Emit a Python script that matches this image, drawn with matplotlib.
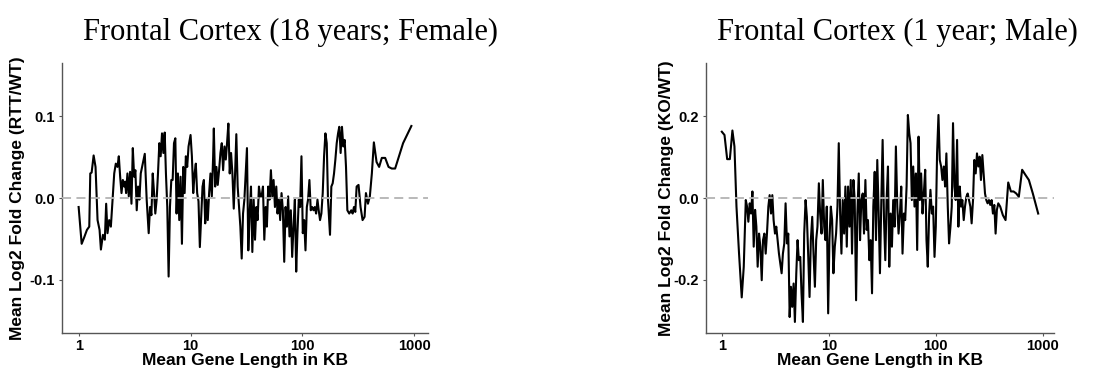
import numpy as np
import matplotlib
matplotlib.use("Agg")
import matplotlib.pyplot as plt

# log10 of mean gene length (KB) and mean log2 fold change
log_len_f = [
    0.000, 0.027, 0.050, 0.074, 0.095, 0.104, 0.116, 0.134, 0.151, 0.169,
    0.187, 0.199, 0.217, 0.234, 0.246, 0.258, 0.273, 0.288, 0.303, 0.318,
    0.332, 0.347, 0.359, 0.371, 0.383, 0.395, 0.407, 0.415, 0.424, 0.436,
    0.448, 0.460, 0.472, 0.484, 0.496, 0.507, 0.519, 0.531, 0.543, 0.555,
    0.573, 0.591, 0.608, 0.626, 0.638, 0.650, 0.662, 0.674, 0.685, 0.697,
    0.709, 0.721, 0.733, 0.745, 0.757, 0.769, 0.780, 0.792, 0.804, 0.816,
    0.828, 0.840, 0.852, 0.864, 0.875, 0.887, 0.899, 0.911, 0.923, 0.935,
    0.947, 0.958, 0.970, 0.982, 1.000, 1.012, 1.024, 1.036, 1.047, 1.059,
    1.071, 1.083, 1.095, 1.107, 1.119, 1.131, 1.142, 1.154, 1.166, 1.178,
    1.190, 1.202, 1.208, 1.220, 1.231, 1.243, 1.255, 1.267, 1.279, 1.291,
    1.303, 1.315, 1.326, 1.338, 1.350, 1.362, 1.374, 1.386, 1.398, 1.409,
    1.421, 1.433, 1.445, 1.457, 1.469, 1.481, 1.493, 1.504, 1.516, 1.528,
    1.540, 1.552, 1.564, 1.576, 1.588, 1.599, 1.611, 1.623, 1.635, 1.647,
    1.659, 1.671, 1.682, 1.694, 1.706, 1.718, 1.730, 1.742, 1.754, 1.766,
    1.777, 1.789, 1.801, 1.813, 1.825, 1.837, 1.849, 1.861, 1.872, 1.884,
    1.896, 1.908, 1.920, 1.932, 1.944, 1.955, 1.967, 1.979, 1.991, 2.003,
    2.015, 2.027, 2.039, 2.050, 2.062, 2.074, 2.086, 2.098, 2.110, 2.122,
    2.134, 2.145, 2.157, 2.169, 2.181, 2.193, 2.205, 2.217, 2.228, 2.246,
    2.258, 2.270, 2.282, 2.294, 2.306, 2.318, 2.329, 2.341, 2.353, 2.365,
    2.377, 2.389, 2.401, 2.418, 2.436, 2.448, 2.460, 2.472, 2.484, 2.501,
    2.519, 2.537, 2.555, 2.567, 2.585, 2.602, 2.620, 2.638, 2.662, 2.685,
    2.709, 2.739, 2.769, 2.798, 2.828, 2.899, 2.973,
]
lfc_f = [
    -0.011, -0.056, -0.048, -0.039, -0.035, 0.030, 0.031, 0.052, 0.038, -0.027,
    -0.039, -0.063, -0.045, -0.051, -0.007, -0.043, -0.027, -0.035, -0.002, 0.030,
    0.042, 0.038, 0.051, 0.026, 0.006, 0.022, 0.014, 0.020, 0.006, 0.030,
    0.002, 0.032, -0.007, 0.061, 0.026, 0.034, -0.015, 0.014, -0.002, 0.030,
    0.042, 0.054, -0.002, -0.043, -0.011, -0.021, 0.030, 0.006, -0.019, -0.002,
    0.030, 0.067, 0.051, 0.079, 0.055, 0.080, 0.030, -0.011, -0.096, -0.011,
    0.022, 0.022, 0.067, 0.073, -0.019, 0.030, -0.027, 0.026, -0.056, 0.038,
    0.006, 0.051, 0.038, 0.063, 0.077, 0.051, 0.006, 0.030, 0.042, 0.006,
    -0.004, -0.060, -0.023, 0.014, 0.022, -0.031, -0.002, -0.027, 0.006, 0.030,
    0.002, 0.051, 0.085, 0.014, 0.038, 0.016, 0.034, 0.055, 0.067, 0.034,
    0.063, 0.047, 0.067, 0.091, 0.030, 0.055, 0.030, -0.013, 0.030, 0.078,
    0.014, -0.011, -0.035, -0.074, -0.019, -0.002, 0.030, 0.061, -0.064, -0.019,
    0.014, -0.066, -0.002, -0.051, -0.011, -0.027, 0.014, 0.002, 0.002, 0.014,
    -0.051, -0.011, -0.035, 0.014, -0.002, 0.034, 0.002, 0.022, -0.011, 0.014,
    -0.019, -0.002, -0.027, 0.006, -0.015, -0.078, -0.011, -0.035, 0.002, -0.047,
    -0.015, -0.072, -0.035, -0.002, -0.090, -0.043, -0.002, -0.011, 0.051, -0.043,
    -0.027, -0.064, -0.011, -0.002, 0.022, -0.015, -0.011, -0.015, -0.011, -0.019,
    -0.002, -0.015, -0.027, -0.019, 0.006, 0.051, 0.079, 0.067, -0.002, -0.045,
    0.014, 0.018, 0.030, 0.047, 0.067, 0.079, 0.087, 0.055, 0.087, 0.063,
    0.071, 0.038, -0.015, -0.019, -0.015, -0.019, -0.011, -0.017, 0.014, 0.016,
    -0.011, -0.027, -0.023, 0.006, -0.007, 0.002, 0.030, 0.068, 0.044, 0.038,
    0.049, 0.049, 0.038, 0.036, 0.036, 0.067, 0.088,
]

log_len_m = [
    0.000, 0.025, 0.050, 0.075, 0.099, 0.118, 0.137, 0.161, 0.186, 0.205,
    0.224, 0.236, 0.248, 0.261, 0.273, 0.286, 0.298, 0.311, 0.323, 0.335,
    0.348, 0.360, 0.373, 0.385, 0.398, 0.410, 0.422, 0.435, 0.447, 0.460,
    0.472, 0.484, 0.497, 0.509, 0.522, 0.534, 0.559, 0.571, 0.584, 0.596,
    0.609, 0.621, 0.634, 0.646, 0.658, 0.671, 0.683, 0.696, 0.708, 0.720,
    0.733, 0.745, 0.758, 0.770, 0.783, 0.795, 0.807, 0.820, 0.832, 0.845,
    0.857, 0.870, 0.882, 0.894, 0.907, 0.919, 0.932, 0.944, 0.957, 0.969,
    0.981, 0.994, 1.006, 1.019, 1.031, 1.043, 1.056, 1.068, 1.081, 1.093,
    1.106, 1.118, 1.130, 1.143, 1.155, 1.168, 1.180, 1.193, 1.205, 1.217,
    1.230, 1.242, 1.255, 1.267, 1.280, 1.292, 1.304, 1.317, 1.329, 1.342,
    1.354, 1.366, 1.379, 1.391, 1.404, 1.416, 1.429, 1.441, 1.453, 1.466,
    1.478, 1.491, 1.503, 1.516, 1.528, 1.540, 1.553, 1.565, 1.578, 1.590,
    1.602, 1.615, 1.627, 1.640, 1.652, 1.665, 1.677, 1.689, 1.702, 1.714,
    1.727, 1.739, 1.752, 1.764, 1.776, 1.789, 1.801, 1.814, 1.826, 1.839,
    1.851, 1.863, 1.876, 1.888, 1.901, 1.913, 1.925, 1.938, 1.950, 1.963,
    1.975, 1.988, 2.000, 2.012, 2.025, 2.037, 2.050, 2.062, 2.075, 2.087,
    2.099, 2.112, 2.124, 2.137, 2.149, 2.161, 2.174, 2.186, 2.199, 2.211,
    2.224, 2.236, 2.248, 2.261, 2.273, 2.286, 2.298, 2.311, 2.323, 2.335,
    2.348, 2.360, 2.373, 2.385, 2.398, 2.410, 2.422, 2.435, 2.447, 2.460,
    2.472, 2.484, 2.497, 2.509, 2.522, 2.534, 2.547, 2.559, 2.571, 2.584,
    2.602, 2.627, 2.652, 2.677, 2.702, 2.727, 2.752, 2.776, 2.807, 2.839,
    2.870, 2.907, 2.957,
]
lfc_m = [
    0.162, 0.154, 0.095, 0.095, 0.165, 0.126, -0.021, -0.136, -0.243, -0.168,
    -0.005, -0.021, -0.058, -0.013, -0.038, 0.016, -0.119, -0.029, -0.070, -0.168,
    -0.087, -0.119, -0.201, -0.103, -0.087, -0.136, -0.087, -0.021, 0.007, -0.038,
    0.007, -0.054, -0.087, -0.070, -0.103, -0.136, -0.184, -0.136, -0.111, -0.013,
    -0.111, -0.087, -0.291, -0.217, -0.266, -0.209, -0.303, -0.184, -0.103, -0.152,
    -0.144, -0.233, -0.303, -0.087, -0.005, -0.046, -0.136, -0.242, -0.103, -0.046,
    -0.136, -0.217, -0.103, -0.070, 0.036, -0.038, -0.087, 0.044, -0.070, -0.103,
    -0.021, -0.282, -0.103, -0.021, -0.054, -0.184, -0.119, -0.087, -0.021, 0.134,
    -0.038, -0.136, -0.005, -0.087, 0.028, -0.119, 0.028, -0.070, 0.044, -0.136,
    0.044, -0.005, -0.250, -0.038, 0.060, -0.103, -0.005, 0.011, -0.087, 0.044,
    -0.078, -0.054, -0.152, -0.103, -0.233, -0.021, 0.064, -0.103, 0.093, -0.038,
    -0.184, -0.005, 0.142, -0.054, -0.152, -0.005, 0.077, -0.168, -0.038, -0.119,
    -0.005, -0.070, 0.126, -0.021, -0.087, -0.038, 0.028, -0.136, -0.038, -0.054,
    0.028, 0.203, 0.158, 0.134, -0.005, 0.077, -0.021, 0.060, -0.127, 0.150,
    -0.005, 0.060, -0.038, 0.011, 0.069, -0.103, -0.168, -0.038, 0.020, -0.038,
    -0.021, -0.144, -0.070, 0.109, 0.203, 0.093, 0.077, 0.044, 0.077, 0.028,
    0.109, -0.021, -0.111, -0.070, -0.021, 0.183, 0.028, -0.005, 0.142, -0.070,
    0.028, -0.021, -0.005, -0.054, -0.021, 0.003, 0.011, -0.005, -0.021, -0.062,
    -0.005, 0.093, 0.060, 0.109, 0.077, 0.101, 0.044, 0.105, 0.060, 0.011,
    -0.005, -0.013, -0.005, -0.017, -0.005, -0.038, -0.017, -0.087, -0.029, -0.013,
    -0.021, -0.042, -0.054, 0.038, 0.016, 0.016, 0.011, 0.003, 0.069, 0.056,
    0.044, 0.011, -0.038,
]

titles = ["Frontal Cortex (18 years; Female)", "Frontal Cortex (1 year; Male)"]
ylabels = ["Mean Log2 Fold Change (RTT/WT)", "Mean Log2 Fold Change (KO/WT)"]
xlabel = "Mean Gene Length in KB"
yticks = [[-0.1, 0.0, 0.1], [-0.2, 0.0, 0.2]]
ylims = [0.165, 0.33]

W, H = 1108, 370
fig = plt.figure(figsize=(W / 100, H / 100), dpi=100)

# axes boxes in pixels: left, right, top, bottom
boxes = [(62, 428, 63, 333), (706, 1054, 63, 333)]
title_x = [83, 717]
ylab_x = [18, 667]

sans = "Liberation Sans"
serif = "Liberation Serif"

series = [(log_len_f, lfc_f), (log_len_m, lfc_m)]
for i, (lx, ly) in enumerate(series):
    l, r, t, b = boxes[i]
    ax = fig.add_axes([l / W, 1 - b / H, (r - l) / W, (b - t) / H])
    x = 10 ** np.array(lx)
    ax.plot(x, ly, color="black", lw=1.5, zorder=2)
    ax.axhline(0, color="#b3b3b3", lw=1.3, ls=(0, (5, 3)), zorder=3)
    ax.set_xscale("log")
    lo, hi = min(lx), max(lx)
    pad = 0.05 * (hi - lo)
    ax.set_xlim(10 ** (lo - pad), 10 ** (hi + pad))
    ax.set_ylim(-ylims[i], ylims[i])
    ax.set_xticks([1, 10, 100, 1000])
    ax.set_xticklabels(["1", "10", "100", "1000"])
    ax.minorticks_off()
    ax.set_yticks(yticks[i])
    ax.set_yticklabels([f"{v:.1f}" for v in yticks[i]])
    for s in ["top", "right"]:
        ax.spines[s].set_visible(False)
    for s in ["left", "bottom"]:
        ax.spines[s].set_color("#555555")
        ax.spines[s].set_linewidth(1.0)
    ax.tick_params(axis="both", length=2.5, width=0.8, color="#555555",
                   labelcolor="black", labelsize=10.5)
    ax.tick_params(axis="x", pad=1.5)
    ax.tick_params(axis="y", pad=2.5)
    for lab in ax.get_xticklabels() + ax.get_yticklabels():
        lab.set_fontfamily(sans)
        lab.set_fontweight("bold")
    fig.text(title_x[i] / W, 1 - 40 / H, titles[i], family=serif,
             fontsize=22, ha="left", va="baseline")
    fig.text(ylab_x[i] / W, 1 - ((t + b) / 2) / H, ylabels[i], family=sans,
             fontweight="bold", fontsize=12.5, rotation=90,
             ha="center", va="center")
    fig.text(((l + r) / 2) / W, 1 - 360 / H, xlabel, family=sans,
             fontweight="bold", fontsize=12.5, ha="center", va="center")

fig.savefig("out.png", dpi=100)
